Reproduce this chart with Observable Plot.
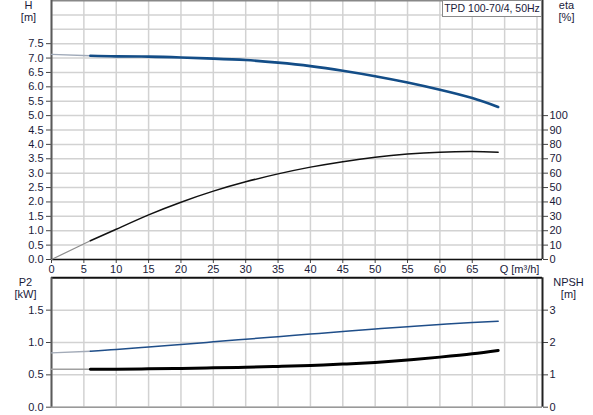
<!DOCTYPE html>
<html>
<head>
<meta charset="utf-8">
<script src="https://cdn.jsdelivr.net/npm/d3@7"></script>
<script src="https://cdn.jsdelivr.net/npm/@observablehq/plot@0.6"></script>
<style>
  html, body { margin: 0; padding: 0; background: #fff; }
  #wrap { position: relative; width: 593px; height: 415px; overflow: hidden; }
  #wrap svg { display: block; }
  #box { position: absolute; left: 442px; top: 0px; width: 98px; height: 15px;
         border: 1px solid #8a8a8a; background: #fff; font: 10.5px "Liberation Sans", Arial, sans-serif;
         color: #1a1a3a; text-align: center; line-height: 15px; box-sizing: content-box; white-space: nowrap; overflow: hidden; }
</style>
</head>
<body>
<div id="wrap"><div id="box">TPD 100-70/4, 50Hz</div></div>
<script>
// ---- data ----
const q      = [0, 6, 10, 15, 20, 25, 30, 35, 40, 45, 50, 55, 60, 65, 69];           // Q [m³/h]
const head   = [7.13, 7.08, 7.06, 7.05, 7.02, 6.98, 6.93, 6.84, 6.72, 6.56, 6.37, 6.15, 5.90, 5.61, 5.30]; // H [m]
const eta    = [0, 13.0, 21.0, 31.0, 39.8, 47.5, 54.0, 59.5, 64.2, 68.0, 71.1, 73.3, 74.6, 75.0, 74.6];     // eta [%]
const p2     = [0.588, 0.586, 0.588, 0.593, 0.600, 0.608, 0.618, 0.630, 0.646, 0.666, 0.692, 0.728, 0.774, 0.825, 0.878]; // P2 [kW]
const npsh   = [1.68, 1.73, 1.78, 1.86, 1.94, 2.02, 2.10, 2.18, 2.26, 2.34, 2.42, 2.49, 2.56, 2.62, 2.66]; // NPSH [m]

const xTickLabels = [0, 5, 10, 15, 20, 25, 30, 35, 40, 45, 50, 55, 60, 65];
const xGrid       = [0, 5, 10, 15, 20, 25, 30, 35, 40, 45, 50, 55, 60, 65, 70, 75];
const hTicks      = [0, 0.5, 1, 1.5, 2, 2.5, 3, 3.5, 4, 4.5, 5, 5.5, 6, 6.5, 7, 7.5];
const hGrid       = [0, 0.5, 1, 1.5, 2, 2.5, 3, 3.5, 4, 4.5, 5, 5.5, 6, 6.5, 7, 7.5, 8, 8.5];
const etaTicks    = [0, 10, 20, 30, 40, 50, 60, 70, 80, 90, 100];
const p2Ticks     = [0, 0.5, 1, 1.5];
const npshTicks   = [0, 1, 2, 3];

const xMax = 75.85, hMax = 9, p2Max = 2;
const etaPerH = 20;   // eta axis: 20 % per metre of H
const npshPerP2 = 2;  // NPSH axis: 2 m per kW

const rows = q.map((Q, i) => ({Q, H: head[i], eta: eta[i], P2: p2[i], NPSH: npsh[i], i}));
const ext = rows.filter(d => d.i <= 1);
const main = rows.filter(d => d.i >= 1);

const FONT = '"Liberation Sans", Arial, sans-serif';
const TXT = "#1a1a3a";
const GRID = "#d2d2d2";
const lab = (s, anchor, dx, dy) => Plot.text([s], {frameAnchor: anchor, dx, dy, fill: TXT, fontSize: 11, textAnchor: "middle", lineAnchor: "middle"});

const topChart = Plot.plot({
  width: 593, height: 276,
  marginLeft: 51, marginRight: 51, marginTop: 0, marginBottom: 17,
  style: {fontFamily: FONT, fontSize: "11px", color: TXT, background: "transparent"},
  x: {domain: [0, xMax], axis: null},
  y: {domain: [0, hMax], axis: null},
  marks: [
    Plot.ruleX(xGrid, {stroke: GRID, strokeWidth: 1.5}),
    Plot.ruleY(hGrid, {stroke: GRID, strokeWidth: 1.5}),
    Plot.ruleY([hMax], {stroke: "#888", strokeWidth: 2}),
    Plot.axisY(hTicks, {anchor: "left", label: null, tickSize: 5, tickPadding: 3, tickFormat: d3.format(".1f"), fontSize: 11, stroke: "#444"}),
    Plot.axisY(etaTicks.map(d => d / etaPerH), {anchor: "right", label: null, tickSize: 5, tickPadding: 2, tickFormat: d => Math.round(d * etaPerH), fontSize: 11, stroke: "#444"}),
    Plot.axisX(xTickLabels, {anchor: "bottom", label: null, tickSize: 4, tickPadding: 2, tickFormat: d => d, fontSize: 11, stroke: "#444"}),
    Plot.ruleX([0], {stroke: "#5a5a5a", strokeWidth: 2}),
    Plot.ruleX([xMax], {stroke: "#333", strokeWidth: 2}),
    Plot.ruleY([0], {stroke: "#111", strokeWidth: 1.5}),
    // efficiency curve
    Plot.line(ext, {x: "Q", y: d => d.eta / etaPerH, stroke: "#8c8c8c", strokeWidth: 1.2}),
    Plot.line(main, {x: "Q", y: d => d.eta / etaPerH, stroke: "#111", strokeWidth: 1.5, curve: "natural"}),
    // head curve
    Plot.line(ext, {x: "Q", y: "H", stroke: "#9fa9b8", strokeWidth: 1.3}),
    Plot.line(main, {x: "Q", y: "H", stroke: "#134d87", strokeWidth: 2.6, curve: "natural"}),
    // axis titles
    lab("H", "top-left", -23, 5),
    lab("[m]", "top-left", -23, 17),
    lab("eta", "top-right", 24, 5),
    lab("[%]", "top-right", 24, 17),
    lab("Q [m³/h]", "bottom-right", -23, 10)
  ]
});

const bottomChart = Plot.plot({
  width: 593, height: 139,
  marginLeft: 51, marginRight: 51, marginTop: 1.3, marginBottom: 8.3,
  style: {fontFamily: FONT, fontSize: "11px", color: TXT, background: "transparent"},
  x: {domain: [0, xMax], axis: null},
  y: {domain: [0, p2Max], axis: null},
  marks: [
    Plot.ruleX(xGrid, {stroke: GRID, strokeWidth: 1.5}),
    Plot.ruleY(p2Ticks, {stroke: GRID, strokeWidth: 1.5}),
    Plot.axisY(p2Ticks, {anchor: "left", label: null, tickSize: 5, tickPadding: 3, tickFormat: d3.format(".1f"), fontSize: 11, stroke: "#444"}),
    Plot.axisY(npshTicks.map(d => d / npshPerP2), {anchor: "right", label: null, tickSize: 5, tickPadding: 2, tickFormat: d => Math.round(d * npshPerP2), fontSize: 11, stroke: "#444"}),
    Plot.ruleY([0], {stroke: "#999", strokeWidth: 1.5}),
    Plot.ruleY([p2Max], {stroke: "#111", strokeWidth: 2}),
    Plot.ruleX([0], {stroke: "#5a5a5a", strokeWidth: 2}),
    Plot.ruleX([xMax], {stroke: "#222", strokeWidth: 2}),
    // NPSH curve
    Plot.line(ext, {x: "Q", y: d => d.NPSH / npshPerP2, stroke: "#a3abb8", strokeWidth: 1.3}),
    Plot.line(main, {x: "Q", y: d => d.NPSH / npshPerP2, stroke: "#1f4e89", strokeWidth: 1.5, curve: "natural"}),
    // P2 curve
    Plot.line(ext, {x: "Q", y: "P2", stroke: "#a0a0a0", strokeWidth: 1.5}),
    Plot.line(main, {x: "Q", y: "P2", stroke: "#000", strokeWidth: 3, curve: "natural"}),
    lab("P2", "top-left", -26, 5),
    lab("[kW]", "top-left", -26, 17),
    lab("NPSH", "top-right", 26, 5),
    lab("[m]", "top-right", 26, 17)
  ]
});

const wrap = document.getElementById("wrap");
wrap.insertBefore(bottomChart, wrap.firstChild);
wrap.insertBefore(topChart, wrap.firstChild);
</script>
</body>
</html>
